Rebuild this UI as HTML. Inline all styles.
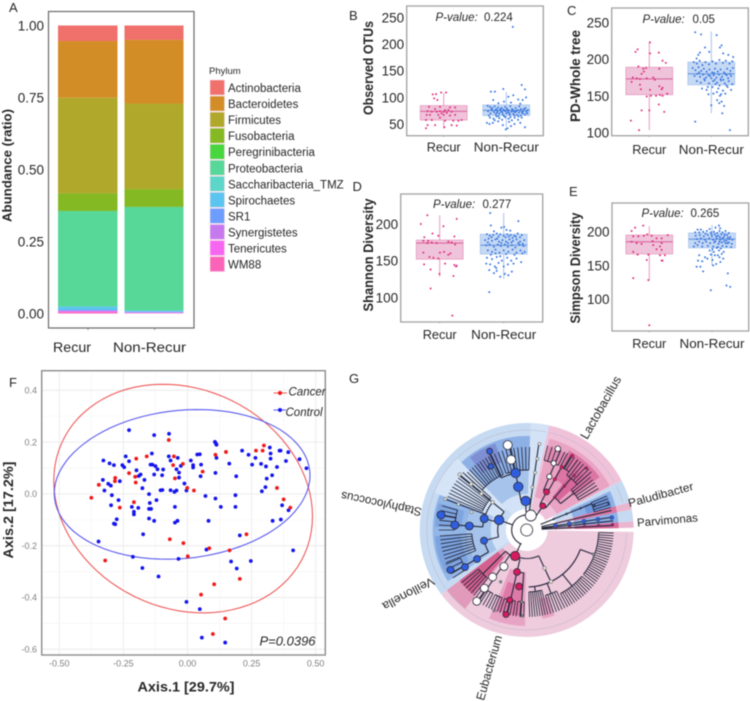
<!DOCTYPE html>
<html lang="en">
<head>
<meta charset="utf-8">
<title>Microbiome diversity figure</title>
<style>
html,body{margin:0;padding:0;background:#fff;width:750px;height:701px;overflow:hidden}
svg{display:block;filter:blur(.5px)}
text{font-family:"Liberation Sans",sans-serif;fill:#262626}
</style>
</head>
<body>
<svg id="fig" xmlns="http://www.w3.org/2000/svg" width="750" height="701" viewBox="0 0 750 701">
  <rect x="0" y="0" width="750" height="701" fill="#fff"/>
  <g id="layer-a"></g>
  <g id="layer-box"></g>
  <g id="layer-f"></g>
  <g id="layer-g"></g>

  <g font-size="13">
    <text x="9" y="12">A</text>
    <text x="349" y="20">B</text>
    <text x="567" y="15">C</text>
    <text x="352.5" y="191">D</text>
    <text x="569" y="196">E</text>
    <text x="9" y="387">F</text>
    <text x="349" y="383">G</text>
  </g>

  <text transform="translate(11.5 165.5) rotate(-90)" text-anchor="middle" font-size="12.5" font-weight="bold" textLength="113" lengthAdjust="spacingAndGlyphs">Abundance (ratio)</text>
  <text x="72" y="352" text-anchor="middle" font-size="14" textLength="38" lengthAdjust="spacingAndGlyphs">Recur</text>
  <text x="149.5" y="352" text-anchor="middle" font-size="14" textLength="73" lengthAdjust="spacingAndGlyphs">Non-Recur</text>
  <text x="209" y="74" font-size="9.5" fill="#3a3a4a">Phylum</text>

  <g font-weight="bold" font-size="13.5" text-anchor="middle">
    <text transform="translate(373 68) rotate(-90)" textLength="94" lengthAdjust="spacingAndGlyphs">Observed OTUs</text>
    <text transform="translate(580 76) rotate(-90)" textLength="92" lengthAdjust="spacingAndGlyphs">PD-Whole tree</text>
    <text transform="translate(373 255) rotate(-90)" textLength="113" lengthAdjust="spacingAndGlyphs">Shannon Diversity</text>
    <text transform="translate(580 268) rotate(-90)" textLength="111" lengthAdjust="spacingAndGlyphs">Simpson Diversity</text>
  </g>

  <g font-size="11.5">
    <text x="435.5" y="21" font-style="italic">P-value:</text>
    <text x="484" y="21">0.224</text>
    <text x="642.5" y="23" font-style="italic">P-value:</text>
    <text x="692.5" y="23">0.05</text>
    <text x="433" y="208" font-style="italic">P-value:</text>
    <text x="482.5" y="208">0.277</text>
    <text x="641.5" y="217" font-style="italic">P-value:</text>
    <text x="690.5" y="217">0.265</text>
  </g>

  <text x="186" y="691.5" text-anchor="middle" font-size="14" font-weight="bold" textLength="97" lengthAdjust="spacingAndGlyphs">Axis.1 [29.7%]</text>
  <text transform="translate(13 510) rotate(-90)" text-anchor="middle" font-size="14" font-weight="bold" textLength="97" lengthAdjust="spacingAndGlyphs">Axis.2 [17.2%]</text>
  <text x="259.5" y="645.5" font-size="13" font-style="italic">P=0.0396</text>

  <g>
    <line x1="273.5" y1="393" x2="287" y2="393" stroke="#ee5555" stroke-width="1"/>
    <circle cx="280" cy="393" r="2" fill="#f01818"/>
    <text x="288.5" y="395.5" font-size="11.5" font-style="italic">Cancer</text>
    <line x1="273.5" y1="410" x2="286" y2="410" stroke="#5555ee" stroke-width="1"/>
    <circle cx="280" cy="410" r="2" fill="#1818ee"/>
    <text x="285.5" y="416" font-size="11.5" font-style="italic">Control</text>
  </g>

  <g text-anchor="middle" dominant-baseline="middle">
    <text transform="translate(601.5 408) rotate(-60.5)" font-size="12.5" textLength="70" lengthAdjust="spacingAndGlyphs">Lactobacillus</text>
    <text transform="translate(661 495.5) rotate(-15)" font-size="11.5" textLength="67" lengthAdjust="spacingAndGlyphs">Paludibacter</text>
    <text transform="translate(667.5 521) rotate(-5)" font-size="11.5" textLength="61" lengthAdjust="spacingAndGlyphs">Parvimonas</text>
    <text transform="translate(490 668) rotate(-74)" font-size="12" textLength="67" lengthAdjust="spacingAndGlyphs">Eubacterium</text>
    <text transform="translate(408 593) rotate(152)" font-size="12" textLength="57" lengthAdjust="spacingAndGlyphs">Veillonella</text>
    <text transform="translate(381.5 503) rotate(191.8)" font-size="12" textLength="82" lengthAdjust="spacingAndGlyphs">Staphylococcus</text>
  </g>
</svg>

<script>
/* ---------- Panel A data ---------- */
const phyla = ["Actinobacteria","Bacteroidetes","Firmicutes","Fusobacteria","Peregrinibacteria","Proteobacteria","Saccharibacteria_TMZ","Spirochaetes","SR1","Synergistetes","Tenericutes","WM88"];
const phylaColors = ["#f0706b","#d38d26","#b0a82b","#85b924","#48d63f","#57d898","#5cd6c8","#5bc5ef","#6d9eff","#c679ef","#f766f0","#fb63b8"];
const recurAbundance = [0.054,0.197,0.332,0.061,0,0.332,0,0.012,0.003,0,0.005,0.004];
const nonRecurAbundance = [0.050,0.221,0.297,0.062,0,0.360,0,0.004,0.002,0.002,0.001,0.001];
const abundanceTicks = [0,0.25,0.5,0.75,1];
const abundanceTickLabels = ["0.00","0.25","0.50","0.75","1.00"];

/* ---------- Boxplot data: [jitter, value] and [low, q1, median, q3, high] ---------- */
const otuRecurPoints = [[-.47,105.6],[-.33,106],[-.11,109],[.1,109],[-.41,98],[-.27,95],[-.63,82],[-.16,82],[.27,81],[.49,81],[-.37,78],[-.16,74],[.06,76],[.2,76],[-.69,74],[-.51,73],[-.3,73],[0,73],[.13,71],[.34,73],[-.59,67],[-.23,67],[-.09,70],[.27,66],[-.76,57.5],[-.51,57.5],[-.16,62],[.06,56],[.41,56],[.77,57.5],[-.69,48],[-.76,42],[-.37,48],[.03,44],[.34,48],[.56,47],[.63,56],[0,67],[-.73,67],[.49,67]];
const otuNonPoints = [[.28,232],[-.66,110.6],[-.49,110.6],[-.13,115.6],[.66,123],[.8,115],[.09,101],[.3,104],[.51,96],[.7,95],[-.56,95],[-.34,89],[-.1,92],[.2,90],[.6,88],[.85,100],[-.8,84],[-.7,82],[-.6,80],[-.5,83],[-.42,78],[-.35,81],[-.28,76],[-.2,80],[-.12,77],[-.05,82],[.02,79],[.1,75],[.17,83],[.25,78],[.32,74],[.4,80],[.48,76],[.55,83],[.63,78],[.72,74],[.82,80],[.92,76],[-.78,74],[-.68,70],[-.6,75],[-.52,72],[-.45,68],[-.38,74],[-.3,70],[-.22,73],[-.15,68],[-.08,75],[0,70],[.07,72],[.15,67],[.22,73],[.3,69],[.38,72],[.46,67],[.54,71],[.62,66],[.7,70],[.8,68],[.9,70],[-.7,62],[-.55,60],[-.42,64],[-.3,61],[-.18,58],[-.05,63],[.1,60],[.24,57],[.36,62],[.5,58],[.66,62],[-.83,52],[-.72,50],[-.58,52],[-.35,55],[-.15,48],[.05,42],[.2,46],[.35,50],[.6,52],[.8,44],[-.02,40],[.12,54],[-.5,57],[-.64,78],[-.47,76],[-.4,71],[-.25,78],[-.17,72],[-.03,74],[.05,77],[.13,70],[.28,76],[.35,66],[.43,74],[.58,75],[.67,72],[.76,78],[.86,73],[-.75,66],[-.33,65],[-.1,65],[.18,63],[.52,64]];
const otuRecurBox = [42,57.5,73.75,84.4,108];
const otuNonBox = [45,66,75.6,85.6,110];

const pdRecurPoints = [[.03,223],[-.5,213.5],[-.59,210],[.41,209],[.57,198],[.71,195],[.03,208],[-.47,190],[-.26,187],[-.14,188],[.43,187],[-.71,175],[-.76,169],[-.54,174],[-.4,173],[-.11,174],[-.33,180],[.17,175],[-.4,165],[-.36,159],[.03,158],[.43,163],[.53,159],[.57,161],[.77,153],[-.11,149],[.07,150],[.29,150],[.57,150],[.46,151],[-.33,130],[0,130],[.41,138],[.64,128],[-.79,116],[-.44,103],[.24,172],[-.23,183]];
const pdNonPoints = [[-.69,237],[-.44,234],[.23,233],[-.27,216],[-.09,210],[-.49,209],[-.56,206],[-.63,201],[.44,219],[.37,216],[.51,208],[.73,206],[.94,203],[-.75,196],[-.62,194],[-.5,198],[-.38,192],[-.25,196],[-.1,193],[.05,197],[.2,194],[.35,199],[.5,195],[.62,198],[.78,194],[.9,197],[-.8,188],[-.68,185],[-.55,189],[-.43,184],[-.32,187],[-.2,183],[-.08,186],[.04,182],[.16,187],[.28,183],[.4,186],[.55,182],[.68,187],[.82,184],[.93,188],[-.72,177],[-.6,180],[-.48,176],[-.35,179],[-.22,175],[-.12,178],[0,174],[.1,178],[.22,175],[.33,179],[.46,176],[.6,180],[.72,174],[.85,177],[-.62,170],[-.45,168],[-.28,171],[-.1,167],[.08,170],[.25,168],[.42,171],[.58,167],[.75,170],[.9,166],[-.4,160],[-.2,158],[.05,162],[.3,160],[.5,157],[.7,162],[.85,158],[-.12,152],[.09,153],[.37,150],[.6,153],[.44,142],[.34,140],[0,137],[.55,136],[.25,144],[.47,126],[-.69,114.6],[.8,103],[-.05,177],[.15,172],[.4,173],[.66,178],[-.3,173],[-.52,182],[.12,181],[.52,172],[.8,180],[.18,166],[.35,164],[.65,164],[-.15,162],[.24,155],[.42,152]];
const pdRecurBox = [103,151.5,173,189,224];
const pdNonBox = [126,165,180,196,238];

const shannonRecurPoints = [[-.53,212],[.73,207],[-.81,200],[.16,197],[-.31,187],[-.06,184],[-.66,182],[.63,183],[-.7,177],[-.49,177],[-.34,175],[-.13,174],[.37,176],[.51,175],[.66,172],[-.7,161],[.01,161],[.19,162],[.46,160],[-.44,155],[-.27,154],[-.06,153],[-.67,145],[-.39,138],[.23,146],[.63,144],[.73,143],[.7,142],[.59,129],[-.01,132],[-.39,112],[.54,75],[.37,158],[-.53,174]];
const shannonNonPoints = [[-.58,215],[.63,204],[-.55,198],[-.1,195],[.02,196],[.12,192],[-.42,190],[.28,191],[-.72,186],[-.6,184],[-.45,185],[-.3,187],[-.15,186],[0,184],[.15,186],[.3,185],[.45,184],[.6,187],[.78,185],[-.8,178],[-.65,180],[-.5,177],[-.35,179],[-.2,176],[-.05,178],[.1,176],[.25,179],[.4,177],[.55,179],[.7,176],[.88,178],[-.75,171],[-.6,172],[-.42,169],[-.25,172],[-.12,170],[.05,172],[.18,169],[.35,171],[.5,168],[.68,172],[.85,170],[-.68,164],[-.5,162],[-.35,165],[-.18,161],[0,164],[.2,162],[.38,165],[.55,161],[.72,164],[.9,162],[-.72,154],[-.5,152],[-.3,155],[-.08,150],[.15,154],[.32,150],[.55,153],[.75,148],[-.75,146],[-.58,145],[-.38,142],[-.22,147],[0,142],[.18,145],[.42,146],[-.62,137],[-.42,133],[-.3,136],[-.15,128],[-.32,140],[.05,132],[.2,130],[.35,135],[-.62,107],[-.52,182],[-.22,183],[.08,182],[.22,183],[.38,181],[.52,183],[.7,182],[-.68,175],[-.28,180],[-.1,174],[.18,174],[.33,175],[.62,174],[.82,173],[-.35,160],[.1,159],[.46,158],[.8,160],[-.55,158],[-.15,156]];
const shannonRecurBox = [128,152,174,178,212];
const shannonNonBox = [125,159,171,186,215];

const simpsonRecurPoints = [[-.61,206],[-.26,209],[-.76,201],[-.09,196],[-.23,194],[.79,195],[-.69,193],[-.47,193],[.1,194],[.31,190],[.53,190],[-.76,185],[-.33,182],[.14,186],[.53,183],[.46,178],[.53,173],[-.69,170],[-.5,166],[-.04,166],[.67,165],[.46,165],[-.11,158],[.53,157],[.57,157],[-.69,131],[-.04,128],[0,61],[.17,180],[-.54,183],[.31,174]];
const simpsonNonPoints = [[.3,209],[-.62,203],[-.48,203],[-.1,204],[.15,206],[.35,205],[-.72,199],[-.55,199],[-.38,200],[-.22,201],[-.05,199],[.08,200],[.22,198],[.32,201],[.45,199],[.58,201],[.72,198],[-.7,194],[-.52,195],[-.35,193],[-.18,195],[0,193],[.12,196],[.26,194],[.4,196],[.52,193],[.65,195],[.78,192],[-.65,189],[-.48,190],[-.3,188],[-.12,190],[.05,188],[.2,190],[.35,188],[.48,190],[.62,187],[.75,189],[.88,188],[-.72,183],[-.55,185],[-.4,183],[-.25,185],[-.08,183],[.1,184],[.28,182],[.42,184],[.58,183],[.72,184],[.85,182],[-.78,178],[-.62,180],[-.42,178],[-.18,179],[.05,178],[.25,177],[.45,179],[.62,178],[.82,177],[-.1,172],[.08,170],[.3,172],[.5,170],[-.55,165],[-.3,162],[-.05,166],[.25,165],[.42,167],[-.6,157],[-.42,156],[-.2,160],[.02,158],[.18,152],[.36,155],[-.66,148],[-.5,148],[-.38,141],[.68,138],[.62,120],[.78,118],[-.05,113],[.05,150],[.48,160],[.18,193],[.34,192],[.44,190],[.55,196],[.68,191],[-.02,196],[-.28,197],[.14,186],[.32,185],[.52,186],[.66,183],[.02,174],[.2,176],[.38,175],[.12,165],[.32,162]];
const simpsonRecurBox = [128,167,185,195,208];
const simpsonNonBox = [150,176,189,198,210];

const otuTicks = [50,100,150,200,250];
const pdTicks = [100,150,200,250];
const shannonTicks = [100,150,200];
const simpsonTicks = [100,150,200];

/* ---------- Panel F data ---------- */
const cancerPoints = [[-.375,-.015],[-.346,.035],[-.282,.062],[-.283,.049],[-.264,-.053],[-.209,-.032],[-.2,.136],[-.159,.145],[-.228,.08],[-.204,.066],[-.202,.044],[-.073,.208],[-.053,.145],[-.056,.111],[-.018,.116],[-.049,.06],[-.001,.023],[.025,.013],[.059,.086],[.109,.151],[.15,.162],[.267,.167],[.293,.167],[.298,.187],[.349,.023],[.375,-.021],[.401,-.053],[.23,-.156],[-.016,-.19],[-.069,-.175],[.085,-.21],[.001,-.241],[.164,-.218],[-.321,-.257],[.204,-.328],[.104,-.349],[.053,-.389],[.147,-.481],[.099,-.541]];
const controlPoints = [[-.228,.246],[-.072,.232],[-.13,.227],[-.241,.145],[-.328,.129],[-.304,.118],[-.287,.111],[-.254,.111],[-.247,.103],[-.228,.126],[-.199,.091],[-.183,.075],[-.19,.069],[-.139,.156],[-.144,.113],[-.137,.113],[-.125,.107],[-.13,.075],[-.117,.095],[-.095,.094],[-.099,.072],[-.073,.145],[-.066,.129],[-.038,.139],[-.026,.108],[-.043,.095],[-.033,.082],[-.033,.063],[-.264,.049],[-.33,.054],[-.309,.039],[-.299,.032],[-.324,.013],[-.295,-.005],[-.269,-.024],[-.298,-.044],[-.276,-.098],[-.287,-.115],[-.282,-.117],[-.217,-.05],[-.209,-.069],[-.209,-.079],[-.192,-.054],[-.168,.054],[-.176,.022],[-.15,-.001],[-.147,-.035],[-.15,-.058],[-.142,-.058],[-.121,-.024],[-.15,-.095],[-.13,-.104],[-.173,-.156],[-.105,.014],[-.098,.015],[-.066,.014],[-.051,.008],[-.043,.013],[-.012,.04],[-.004,.013],[-.049,-.05],[-.049,-.111],[-.039,-.104],[.013,.129],[.022,.111],[.022,.102],[.038,.152],[.048,.153],[.053,.113],[.051,.068],[.07,-.008],[.107,.201],[.111,.194],[.113,.19],[.113,.139],[.109,.081],[.109,-.018],[.13,-.05],[.082,-.104],[.074,-.215],[.163,.117],[.19,.068],[.187,-.005],[.187,-.05],[.204,-.16],[.213,.167],[.238,.151],[.252,.113],[.265,.139],[.287,.116],[.306,.106],[.321,.179],[.324,.156],[.324,.136],[.309,.059],[.304,.026],[.29,.01],[.33,.072],[.349,.104],[.359,.167],[.363,.167],[.384,.127],[.393,.161],[.437,.134],[.464,.099],[.332,-.104],[.364,-.099],[.369,-.044],[.394,-.063],[.412,-.218],[-.347,-.184],[-.213,-.243],[-.176,-.286],[-.113,-.319],[-.035,-.251],[.17,-.261],[.192,-.288],[.247,-.259],[-.004,-.417],[.048,-.445],[.056,-.555],[.147,-.574]];
/* centre x, centre y, half-width, half-height, correlation */
const cancerEllipse = [-.017,-.018,.5045,.4414,-.155];
const controlEllipse = [-.021,.0367,.4987,.289,.12];
const pcoaXTicks = [-.5,-.25,0,.25,.5];
const pcoaXLabels = ["-0.50","-0.25","0.00","0.25","0.50"];
const pcoaYTicks = [-.6,-.4,-.2,0,.2,.4];
const pcoaYLabels = ["-0.6","-0.4","-0.2","0.0","0.2","0.4"];

/* ---------- Panel G data: polar (angle deg clockwise from east, radius) ---------- */
const gWedges = [
 [1,143,21,107,"#eecbdd"],[143,282,21,107,"#c6daf2"],[282,332.5,21,107,"#f0c2d9"],
 [332.5,345,30,107,"#c6daf2"],[345,349,30,107,"#eab6cf"],[349,355.3,30,107,"#c6daf2"],[355.3,358.8,30,107,"#eab6cf"],
 [272,282,21,107,"#d3e2f6"],[226,272,21,36,"#d3e2f6"],[226,272,36,60,"#a6c4eb"],[222,272,60,94,"#8db0e6"],[232,250,72,92,"#7f8fd4"],
 [202,226,30,100,"#d6e4f7"],[178,202,21,36,"#d3e2f6"],[147,202,36,60,"#a6c4eb"],[147,202,60,94,"#93b6e8"],[182,197,65,92,"#7fa5e0"],[152,176,66,92,"#7ea4e0"],[147,178,21,36,"#d3e2f6"],
 [284,332,34,94,"#e9a3c3"],[298,324,58,90,"#dc75a3"],[308,318,44,78,"#d8679a"],[285,298,72,86,"#e38bb2"],
 [335,345,48,92,"#8db0e6"],[337,345,62,88,"#7098dc"],[345,349,48,92,"#dc75a3"],[349,355.3,48,92,"#8db0e6"],[355.3,358.8,48,92,"#d8679a"],
 [128,143,30,100,"#e29abb"],[130,143,36,84,"#d4608f"],[91,113,42,96,"#e7a3c4"],[94,110,55,86,"#df7aa8"],[72,80,70,90,"#e8a3c3"]
];
const gGreyArcs = [[2,142,100],[144,281,100],[283,331,100],[333,344,100]];
/* a0, a1, leaf count, inner radius, outer radius */
const gCombs = [
 [2,38,21,72,87],[40,62,13,72,87],[64,74,6,68,87],[76,88,8,62,87],
 [92,97,3,72,87],[99,108,5,72,87],[110,116,4,72,87],[118,127,5,72,87],[129,141,6,62,84],
 [284,296,5,72,87],[298,306,4,72,87],[306,318,6,68,87],[318,330,6,60,83],
 [222,247,12,60,83],[250,272,9,60,83],[203,222,9,48,86],[158,176,8,55,87],[180,196,6,72,88],[147,157,4,72,88],
 [337,345,5,70,87]
];
/* angle, r0, r1 */
const gBranches = [
 [268,18,29],[259,29,87],[244,58,87],[278,15,87],[200,15,29],[219,29,87],[200.8,44,87],[195,29,44],[184,44,72],[190,72,87],[166,29,44],[150,44,87],
 [114,15,28.5],[124,30,87],[103,30,87],[135,30,62],[65,28.5,57],[20,57,72],[51,57,72],[69,57,68],[82,57,62],[94,43,87],
 [303.7,15,29],[297.5,29,43],[293,43,87],[299,43,72],[301.5,72,87],[310.6,29,68],[322,43,60],
 [338,15,70],[347,15,87],[351.5,15,87],[354,15,87],[357,15,87]
];
/* a0, a1, radius */
const gTreeArcs = [[110,285,15],[259,268,29],[244,259,58],[166,219,29],[184,195,44],[200.8,219,44],[184,190,72],[150,166,44],[65,114,28.5],[20,88,57],[103,135,30],[94,103,43],[124,127,72],[297.5,310.6,29],[293,299,43],[310.6,322,43]];
/* angle, radius, size, kind */
const gNodes = [
 [114,28.5,4.6,"red"],[122,43,4,"white"],[126,58,4,"white"],[126,72,4,"white"],[125,87,4,"white"],
 [103,43,3.4,"red"],[97.7,57,3.4,"red"],[103.6,72,3,"red"],[103.8,87,3,"red"],[94,72,1.3,"grey"],[93,86,1.3,"grey"],[116.7,58,1.3,"grey"],[112,87,1.3,"grey"],
 [65,42,1.8,"pale"],[64.8,57,1.8,"pale"],[20,71,1.4,"grey"],
 [291,87,2.8,"white"],[292,72,2.6,"white"],[293,58,2.6,"white"],[297.5,43,3,"red"],[303.7,29,3,"red"],
 [301.5,87,1.8,"red"],[299,72,1.8,"red"],[299,58,1.8,"red"],[314,86,1.4,"darkred"],[311,72,1.4,"darkred"],[310.6,58,1.4,"darkred"],[310.6,43,1.4,"darkred"],
 [268,29,4.7,"blue"],[259,44,4.7,"blue"],[259,58,4.7,"blue"],[257.5,72,4.5,"white"],[257.4,87,4.5,"white"],[240.6,73,2.8,"blue"],[244.8,87,3,"blue"],
 [277.6,43,1.6,"pale"],[278.3,58,1.6,"pale"],[278.5,72,1.6,"pale"],[278.4,87,1.6,"pale"],
 [199.9,29.4,4.7,"blue"],[195,44,4,"blue"],[184,57.5,4,"blue"],[184,72,4,"blue"],[190,87,4,"blue"],[166,44,3.5,"blue"],[149.7,57.5,3.5,"blue"],[149,72,3.5,"blue"],[152.4,86,3.5,"blue"],
 [219.6,87,1.8,"pale"],[219.6,72,1.8,"pale"],[218.7,58,1.8,"pale"],[219,44,1.8,"pale"],[200.9,87,1.6,"pale"],[200.7,73,1.6,"pale"],[198,58,1.6,"pale"],
 [351.3,29,2,"blue"],[351.3,43,2,"blue"],[351.3,58,2,"blue"],[351.5,72,2,"blue"],[351.7,86,2,"blue"],
 [356.2,29,1.2,"darkred"],[356.2,43,1.2,"darkred"],[356.2,58,1.2,"darkred"],[356.2,72,1.2,"darkred"],[356.2,86,1.2,"darkred"],
 [338,29,1,"navy"],[338,43,1,"navy"],[338,58,1,"navy"],[340,72,1,"navy"],[342,86,1,"navy"],
 [286,15,5.5,"white"],[0,0,6,"white"]
];
const gNodeColors = {red:"#d81b5f",darkred:"#b8245f",white:"#ffffff",blue:"#2f5fe0",navy:"#26427f",grey:"#8a9a90",pale:"#e6e4d2"};

/* ---------- helpers ---------- */
const NS = "http://www.w3.org/2000/svg";
function shape(parent, tag, attrs, text) {
  const el = document.createElementNS(NS, tag);
  for (const k in attrs) el.setAttribute(k, attrs[k]);
  if (text !== undefined) el.textContent = text;
  parent.appendChild(el);
  return el;
}
function linear(v0, p0, v1, p1) { return v => p0 + (v - v0) * (p1 - p0) / (v1 - v0); }

/* ---------- Panel A ---------- */
(function () {
  const g = document.getElementById("layer-a");
  const y = linear(0, 313.5, 1, 25.5);
  const frame = shape(g, "rect", {x:48.5,y:11.5,width:145.5,height:316.5,fill:"#fff",stroke:"#6a6a6a","stroke-width":1.2});
  
  
  abundanceTicks.forEach((t, i) => {
    const lab = shape(g, "text", {x:44,y:y(t)+4.8,"text-anchor":"end","font-size":13.5}, abundanceTickLabels[i]);
    
    
  });
  function bar(values, x, w, barName) {
    let top = 1;
    values.forEach((v, i) => {
      if (v <= 0) return;
      const r = shape(g, "rect", {x:x,y:y(top),width:w,height:Math.max(y(top - v) - y(top), .3),fill:phylaColors[i]});
      
      
      top -= v;
    });
  }
  bar(recurAbundance, 58, 59.5, "recur-bar");
  bar(nonRecurAbundance, 124.5, 59, "non-recur-bar");
  [88, 154.7].forEach(x => {
    const t = shape(g, "line", {x1:x,x2:x,y1:328,y2:330,stroke:"#6a6a6a","stroke-width":.8});
    
    
  });
  phyla.forEach((name, i) => {
    const yy = 80 + i * 16.05;
    const sw = shape(g, "rect", {x:210,y:yy,width:14.5,height:15,fill:phylaColors[i],stroke:"#f4d9e4","stroke-width":.6});
    
    
    const lb = shape(g, "text", {x:228,y:yy+12,"font-size":11.5}, name);
    
    
  });
})();

/* ---------- Boxplots ---------- */
function boxPanel(o) {
  const g = document.getElementById("layer-box");
  const y = linear(o.v0, o.p0, o.v1, o.p1);
  const frame = shape(g, "rect", {x:o.x0,y:o.y0,width:o.x1-o.x0,height:o.y1-o.y0,fill:"#fff",stroke:"#a8a8a8","stroke-width":1.4});
  
  
  o.ticks.forEach(t => {
    const lab = shape(g, "text", {x:o.x0-2.5,y:y(t)+5,"text-anchor":"end","font-size":13.5}, String(t));
    
    
  });
  const groups = [
    {c:o.c1,box:o.box1,pts:o.pts1,fill:"#efc4da",edge:"#e79abf",med:"#d86aa0",dot:"#e0307f",label:"Recur",w:34,gn:"recur"},
    {c:o.c2,box:o.box2,pts:o.pts2,fill:"#c6d9f4",edge:"#a6c3ee",med:"#6f9ce2",dot:"#3a78e0",label:"Non-Recur",w:65,gn:"non-recur"}
  ];
  groups.forEach(gr => {
    const b = gr.box;
    const wh = shape(g, "line", {x1:gr.c,x2:gr.c,y1:y(b[0]),y2:y(b[4]),stroke:gr.edge,"stroke-width":1});
    
    
    const rc = shape(g, "rect", {x:gr.c-23.4,y:y(b[3]),width:46.8,height:y(b[1])-y(b[3]),fill:gr.fill,stroke:gr.edge,"stroke-width":.8});
    
    
    const md = shape(g, "line", {x1:gr.c-23.4,x2:gr.c+23.4,y1:y(b[2]),y2:y(b[2]),stroke:gr.med,"stroke-width":1.2});
    
    
    gr.pts.forEach(p => {
      const d = shape(g, "circle", {cx:gr.c+p[0]*23.3,cy:y(p[1]),r:1,fill:gr.dot});
      
      
    });
    const tm = shape(g, "line", {x1:gr.c,x2:gr.c,y1:o.y1,y2:o.y1+1.5,stroke:"#a8a8a8","stroke-width":.7});
    
    
    const lb = shape(g, "text", {x:gr.c,y:o.y1+o.labelGap,"text-anchor":"middle","font-size":13,textLength:gr.w,lengthAdjust:"spacingAndGlyphs"}, gr.label);
    
    
  });
}
boxPanel({name:"observed-otus",x0:406.7,x1:543.3,y0:6,y1:135.7,v0:50,p0:124,v1:250,p1:17.3,ticks:otuTicks,c1:443.7,c2:506.3,box1:otuRecurBox,box2:otuNonBox,pts1:otuRecurPoints,pts2:otuNonPoints,labelGap:16});
boxPanel({name:"pd-whole-tree",x0:611.7,x1:748.3,y0:8,y1:135.7,v0:100,p0:132.3,v1:250,p1:22.7,ticks:pdTicks,c1:649.3,c2:711.3,box1:pdRecurBox,box2:pdNonBox,pts1:pdRecurPoints,pts2:pdNonPoints,labelGap:18.5});
boxPanel({name:"shannon",x0:400.7,x1:542.7,y0:194,y1:322,v0:100,p0:297.3,v1:200,p1:224,ticks:shannonTicks,c1:439.7,c2:503.7,box1:shannonRecurBox,box2:shannonNonBox,pts1:shannonRecurPoints,pts2:shannonNonPoints,labelGap:17});
boxPanel({name:"simpson",x0:612,x1:748.7,y0:203,y1:331,v0:100,p0:299,v1:200,p1:231.7,ticks:simpsonTicks,c1:649.3,c2:712,box1:simpsonRecurBox,box2:simpsonNonBox,pts1:simpsonRecurPoints,pts2:simpsonNonPoints,labelGap:17});

/* ---------- Panel F ---------- */
(function () {
  const g = document.getElementById("layer-f");
  const x = linear(-.5, 59.3, .5, 315.7);
  const y = linear(-.6, 649.3, .4, 390.3);
  const L = 41.7, R = 325.3, T = 370.7, B = 655;
  pcoaXTicks.forEach((t, i) => {
    const v = shape(g, "line", {x1:x(t),x2:x(t),y1:T,y2:B,stroke:"#ececec","stroke-width":1});
    
    
    if (i < pcoaXTicks.length - 1) {
      const m = shape(g, "line", {x1:x(t+.125),x2:x(t+.125),y1:T,y2:B,stroke:"#f5f5f5","stroke-width":.7});
      
      
    }
    const lb = shape(g, "text", {x:x(t),y:666.7,"text-anchor":"middle","font-size":9,style:"fill:#7f7f7f"}, pcoaXLabels[i]);
    
    
  });
  pcoaYTicks.forEach((t, i) => {
    const h = shape(g, "line", {x1:L,x2:R,y1:y(t),y2:y(t),stroke:"#ececec","stroke-width":1});
    
    
    if (i < pcoaYTicks.length - 1) {
      const m = shape(g, "line", {x1:L,x2:R,y1:y(t+.1),y2:y(t+.1),stroke:"#f5f5f5","stroke-width":.7});
      
      
    }
    const lb = shape(g, "text", {x:37,y:y(t)+3.2,"text-anchor":"end","font-size":9,style:"fill:#7f7f7f"}, pcoaYLabels[i]);
    
    
  });
  function ellipsePath(e) {
    const phi = Math.asin(e[4]);
    let d = "";
    for (let i = 0; i <= 90; i++) {
      const t = i / 90 * 2 * Math.PI;
      const px = x(e[0] + e[2] * Math.cos(t));
      const py = y(e[1] + e[3] * Math.sin(t + phi));
      d += (i ? "L" : "M") + px.toFixed(1) + " " + py.toFixed(1);
    }
    return d + "Z";
  }
  const e1 = shape(g, "path", {d:ellipsePath(cancerEllipse),fill:"none",stroke:"#ee5a5a","stroke-width":1.1});
  
  
  const e2 = shape(g, "path", {d:ellipsePath(controlEllipse),fill:"none",stroke:"#5a5aee","stroke-width":1.1});
  
  
  controlPoints.forEach(p => {
    const c = shape(g, "circle", {cx:x(p[0]),cy:y(p[1]),r:1.9,fill:"#1414ee"});
    
    
  });
  cancerPoints.forEach(p => {
    const c = shape(g, "circle", {cx:x(p[0]),cy:y(p[1]),r:1.9,fill:"#f01818"});
    
    
  });
  const f = shape(g, "rect", {x:L,y:T,width:R-L,height:B-T,fill:"none",stroke:"#8c8c8c","stroke-width":1.4});
  
  
})();

/* ---------- Panel G ---------- */
(function () {
  const g = document.getElementById("layer-g");
  const cx = 526.7, cy = 530;
  const P = (a, r) => [cx + r * Math.cos(a * Math.PI / 180), cy + r * Math.sin(a * Math.PI / 180)];
  function arcD(a0, a1, r) {
    const s = P(a0, r), e = P(a1, r);
    return "M" + s[0].toFixed(2) + " " + s[1].toFixed(2) + "A" + r + " " + r + " 0 " + (a1 - a0 > 180 ? 1 : 0) + " 1 " + e[0].toFixed(2) + " " + e[1].toFixed(2);
  }
  function wedgeD(a0, a1, r0, r1) {
    const a = P(a0, r1), b = P(a1, r1), c = P(a1, r0), d = P(a0, r0), f = a1 - a0 > 180 ? 1 : 0;
    return "M" + a[0] + " " + a[1] + "A" + r1 + " " + r1 + " 0 " + f + " 1 " + b[0] + " " + b[1] + "L" + c[0] + " " + c[1] + "A" + r0 + " " + r0 + " 0 " + f + " 0 " + d[0] + " " + d[1] + "Z";
  }
  gWedges.forEach(w => {
    const el = shape(g, "path", {d:wedgeD(w[0], w[1], w[2], w[3]),fill:w[4]});
    
    
  });
  gGreyArcs.forEach(a => {
    const el = shape(g, "path", {d:arcD(a[0], a[1], a[2]),fill:"none",stroke:"#b4b4c4","stroke-width":.45});
    
    
  });
  const ink = "#24263a";
  gCombs.forEach(c => {
    const arc = shape(g, "path", {d:arcD(c[0], c[1], c[3]),fill:"none",stroke:ink,"stroke-width":.9});
    
    
    for (let i = 0; i < c[2]; i++) {
      const a = c[0] + (c[1] - c[0]) * i / (c[2] - 1);
      const s = P(a, c[3]), e = P(a, c[4]);
      const l = shape(g, "line", {x1:s[0],y1:s[1],x2:e[0],y2:e[1],stroke:ink,"stroke-width":.85});
      
      
    }
  });
  gTreeArcs.forEach(a => {
    const el = shape(g, "path", {d:arcD(a[0], a[1], a[2]),fill:"none",stroke:ink,"stroke-width":1.1});
    
    
  });
  gBranches.forEach(b => {
    const s = P(b[0], b[1]), e = P(b[0], b[2]);
    const l = shape(g, "line", {x1:s[0],y1:s[1],x2:e[0],y2:e[1],stroke:ink,"stroke-width":1.1});
    
    
  });
  gNodes.forEach(n => {
    const p = P(n[0], n[1]);
    const c = shape(g, "circle", {cx:p[0],cy:p[1],r:n[2],fill:gNodeColors[n[3]],stroke:"#2a2a38","stroke-width":n[2] > 2.5 ? .8 : .4});
    
    
  });
})();
</script>
</body>
</html>
